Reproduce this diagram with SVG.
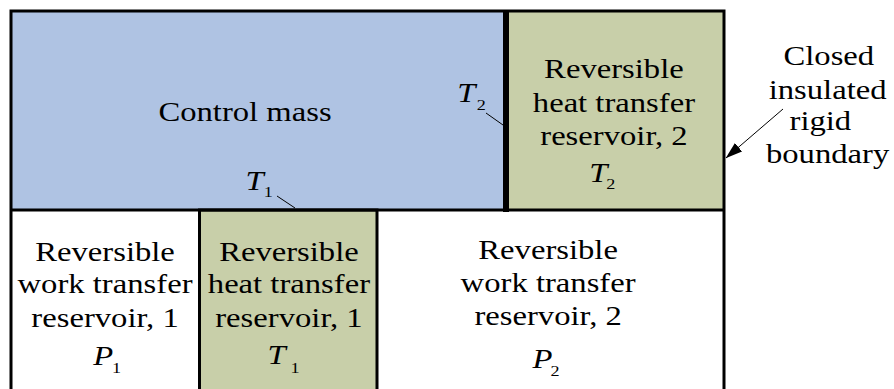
<svg xmlns="http://www.w3.org/2000/svg" width="894" height="389" viewBox="0 0 894 389">
<style>
.t{font-family:'Liberation Serif','Times New Roman',Times,'DejaVu Serif',serif;font-size:27px;fill:#000;text-anchor:middle}
.v{font-family:'Liberation Serif','Times New Roman',Times,'DejaVu Serif',serif;font-size:27px;font-style:italic;fill:#000}
.s{font-family:'Liberation Serif','Times New Roman',Times,'DejaVu Serif',serif;font-size:15px;fill:#000}
.ln{stroke:#000;fill:none}
</style>
<defs>
<marker id="ah" markerWidth="17" markerHeight="11" refX="16.5" refY="5.5" orient="auto" markerUnits="userSpaceOnUse" viewBox="0 0 17 11">
<path d="M0,0 L17,5.5 L0,11 Z" fill="#000"/>
</marker>
</defs>
<rect width="894" height="389" fill="#fff"/>
<g id="control-mass">
<rect x="11" y="11" width="495" height="199" fill="#AFC3E3"/>
<g transform="scale(1.21,1)"><text class="t" x="202.5" y="121">Control mass</text></g>
</g>
<g id="heat-reservoir-2">
<rect x="506" y="11" width="218" height="199" fill="#C8CFA9"/>
<g transform="scale(1.21,1)">
<text class="t" x="507.4" y="78">Reversible</text>
<text class="t" x="507.4" y="112">heat transfer</text>
<text class="t" x="507.4" y="145">reservoir, 2</text>
<text class="v" x="487" y="182">T</text>
<text class="s" x="501" y="189">2</text>
</g>
</g>
<g id="work-reservoir-1">
<g transform="scale(1.21,1)">
<text class="t" x="86.8" y="261">Reversible</text>
<text class="t" x="86.8" y="293">work transfer</text>
<text class="t" x="86.8" y="327">reservoir, 1</text>
<text class="v" x="77" y="365">P</text>
<text class="s" x="92.5" y="373">1</text>
</g>
</g>
<g id="heat-reservoir-1">
<rect x="199.5" y="210" width="177.5" height="185" fill="#C8CFA9" stroke="#000" stroke-width="3"/>
<g transform="scale(1.21,1)">
<text class="t" x="238.8" y="261">Reversible</text>
<text class="t" x="238.8" y="293">heat transfer</text>
<text class="t" x="238.8" y="327">reservoir, 1</text>
<text class="v" x="221" y="364">T</text>
<text class="s" x="240" y="373">1</text>
</g>
</g>
<g id="work-reservoir-2">
<g transform="scale(1.21,1)">
<text class="t" x="453" y="259">Reversible</text>
<text class="t" x="453" y="292">work transfer</text>
<text class="t" x="453" y="325">reservoir, 2</text>
<text class="v" x="440" y="368">P</text>
<text class="s" x="455" y="376">2</text>
</g>
</g>
<g id="boundary-label">
<g transform="scale(1.21,1)">
<text class="t" x="685" y="65">Closed</text>
<text class="t" x="684" y="99">insulated</text>
<text class="t" x="678" y="130">rigid</text>
<text class="t" x="684" y="163">boundary</text>
</g>
</g>
<g id="boundaries">
<path class="ln" stroke-width="3" d="M11,395 V11 H724 V395"/>
<path class="ln" stroke-width="3" d="M11,210 H724"/>
<path class="ln" stroke-width="6" d="M506,11 V212"/>
</g>
<g id="temp-labels">
<g transform="scale(1.21,1)">
<text class="v" x="203" y="190">T</text>
<text class="s" x="218" y="197">1</text>
<text class="v" x="378" y="102">T</text>
<text class="s" x="394" y="110">2</text>
</g>
</g>
<g id="connectors">
<path class="ln" stroke-width="1" d="M277,196 L295,208"/>
<path class="ln" stroke-width="1" d="M486,113 L503,125"/>
<path class="ln" stroke-width="1" d="M783,109 L726,158" marker-end="url(#ah)"/>
</g>
</svg>
